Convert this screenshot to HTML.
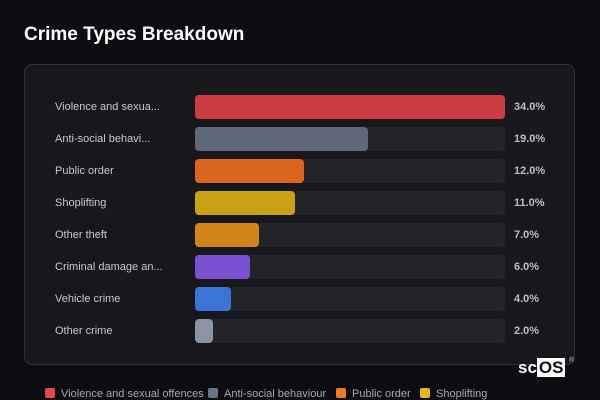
<!DOCTYPE html>
<html><head><style>
body{margin:0;width:600px;height:400px;background:#0d0d11;font-family:"Liberation Sans",sans-serif;position:relative;overflow:hidden;color:#ddd}
.t{position:absolute;left:24px;top:24px;font-size:19px;font-weight:bold;color:#fff}
.card{position:absolute;left:24px;top:64px;width:551px;height:301px;box-sizing:border-box;background:#18181c;border:1px solid #2f2f35;border-radius:8px}
.row{position:absolute;left:0;width:600px;height:24px}
.lb{position:absolute;left:55px;top:0;line-height:24px;font-size:11px;color:#c8c8cc}
.tr{position:absolute;left:195px;top:0;width:310px;height:24px;background:#242428;border-radius:4px}
.b{position:absolute;left:195px;top:0;height:24px;border-radius:4px}
.p{position:absolute;left:514px;top:0;line-height:24px;font-size:11px;font-weight:bold;color:#bdbdc2}
.lg{position:absolute;top:388px;font-size:11px;color:#a8a8b0}
.lg i{display:inline-block;width:10px;height:10px;border-radius:2px;vertical-align:-1px;margin-right:6px}
</style></head><body>
<div class="t">Crime Types Breakdown</div>
<div class="card"></div>
<div class="row" style="top:95px"><span class="lb">Violence and sexua...</span><div class="tr"></div><div class="b" style="width:310px;background:#cc3d42"></div><span class="p">34.0%</span></div>
<div class="row" style="top:127px"><span class="lb">Anti-social behavi...</span><div class="tr"></div><div class="b" style="width:173px;background:#5f6878"></div><span class="p">19.0%</span></div>
<div class="row" style="top:159px"><span class="lb">Public order</span><div class="tr"></div><div class="b" style="width:109px;background:#d9661c"></div><span class="p">12.0%</span></div>
<div class="row" style="top:191px"><span class="lb">Shoplifting</span><div class="tr"></div><div class="b" style="width:100px;background:#c9a114"></div><span class="p">11.0%</span></div>
<div class="row" style="top:223px"><span class="lb">Other theft</span><div class="tr"></div><div class="b" style="width:64px;background:#d4851a"></div><span class="p">7.0%</span></div>
<div class="row" style="top:255px"><span class="lb">Criminal damage an...</span><div class="tr"></div><div class="b" style="width:55px;background:#7a52d1"></div><span class="p">6.0%</span></div>
<div class="row" style="top:287px"><span class="lb">Vehicle crime</span><div class="tr"></div><div class="b" style="width:36px;background:#3a74d6"></div><span class="p">4.0%</span></div>
<div class="row" style="top:319px"><span class="lb">Other crime</span><div class="tr"></div><div class="b" style="width:18px;background:#8c94a4"></div><span class="p">2.0%</span></div>
<div class="lg" style="left:45px"><i style="background:#e8444a"></i>Violence and sexual offences</div>
<div class="lg" style="left:208px"><i style="background:#6a7488"></i>Anti-social behaviour</div>
<div class="lg" style="left:336px"><i style="background:#f07a22"></i>Public order</div>
<div class="lg" style="left:420px"><i style="background:#eab81a"></i>Shoplifting</div>
<div style="position:absolute;left:518px;top:359px;font-size:17px;font-weight:bold;color:#fff;line-height:18px">sc<span style="background:#fff;color:#111;padding:0 2px">OS</span></div>
<div style="position:absolute;left:569px;top:357px;font-size:7px;color:#ccc">®</div>
</body></html>
